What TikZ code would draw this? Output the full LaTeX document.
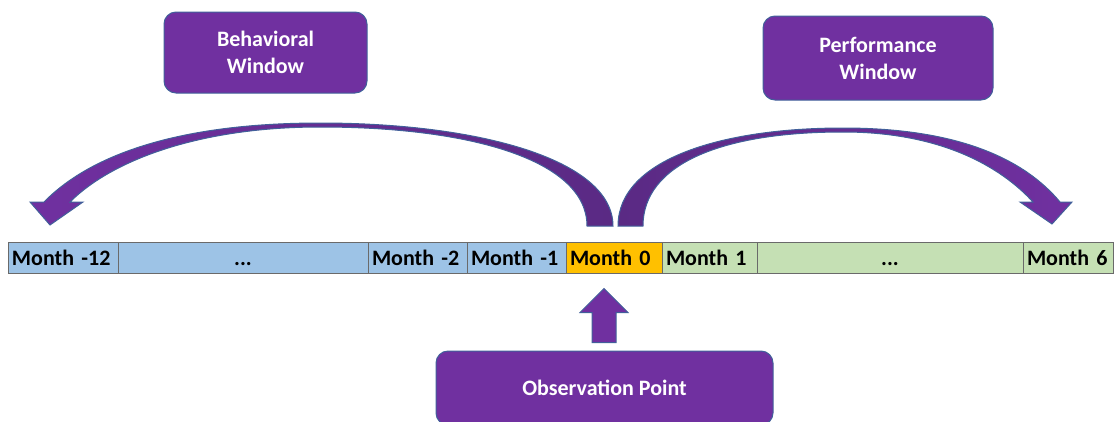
\documentclass[tikz,border=0pt]{standalone}
\usepackage{fontspec}
\setmainfont{Carlito}
\usetikzlibrary{positioning}
\definecolor{winpurple}{HTML}{7030A0}
\definecolor{darkpurple}{HTML}{5A2A84}
\definecolor{winedge}{HTML}{41609A}
\definecolor{pastblue}{HTML}{9DC3E6}
\definecolor{futuregreen}{HTML}{C5E0B4}
\definecolor{nowyellow}{HTML}{FFC000}
\definecolor{cellline}{HTML}{6A6A6A}
\tikzstyle{window} = [draw=winedge,fill=winpurple,rectangle,rounded corners=12pt,line width=1pt,text=white,align=center,font=\fontsize{22}{27}\selectfont\bfseries]
\tikzstyle{month} = [draw=cellline,rectangle,line width=0.8pt,minimum height=31pt,inner xsep=4pt,inner ysep=0pt,outer sep=0pt,text height=15pt,text depth=0pt,align=left,font=\fontsize{22}{26}\selectfont\bfseries]
\tikzstyle{gap} = [month,align=center]
\tikzstyle{blockarrow} = [draw=winedge,line width=1pt]
\def \lift {8pt}

\begin{document}
\begin{tikzpicture}[x=1pt,y=-1pt]
  \useasboundingbox (0,0) rectangle (1114,421);
  \clip (0,0) rectangle (1114,421);
  % windows
  \node[window,minimum width=203pt,minimum height=81pt] (behav) at (265.5,52.5) {Behavioral\\Window};
  \node[window,minimum width=230pt,minimum height=84pt] (perf) at (878,58) {Performance\\Window};
  \node[window,minimum width=337pt,minimum height=74pt] (obs) at (604.5,388) {Observation Point};
  % timeline
  \node[month,fill=pastblue,text width=102pt,anchor=west] (m12) at (8,257.5) {Month -12};
  \node[gap,fill=pastblue,text width=242pt,right=0pt of m12] (dotsl) {...};
  \node[month,fill=pastblue,text width=91pt,right=0pt of dotsl] (m2) {Month -2};
  \node[month,fill=pastblue,text width=91pt,right=0pt of m2] (m1) {Month -1};
  \node[month,fill=nowyellow,text width=88pt,right=0pt of m1] (m0) {Month 0};
  \node[month,fill=futuregreen,text width=87pt,right=0pt of m0] (p1) {Month 1};
  \node[gap,fill=futuregreen,text width=258pt,right=0pt of p1] (dotsr) {...};
  \node[month,fill=futuregreen,text width=82pt,right=0pt of dotsr] (p6) {Month 6};
  % curved arrows
  \draw[blockarrow,left color=winpurple,right color=darkpurple] (613,226) .. controls (613,160) and (480,123) .. (320,123)
    .. controls (190,123) and (95,150) .. (44,202) -- (30,202) -- (50,225) -- (83,202) -- (70,202)
    .. controls (112,160) and (200,127) .. (320,127) .. controls (470,127) and (587,160) .. (587,226) -- cycle;
  \draw[blockarrow,left color=darkpurple,right color=winpurple] (618,226) .. controls (618,160) and (720,128) .. (843,128)
    .. controls (960,128) and (1025,160) .. (1060,202) -- (1072,202) -- (1052,224) -- (1020,202) -- (1033,202)
    .. controls (1000,166) and (940,132) .. (843,132) .. controls (720,132) and (643,165) .. (643,226) -- cycle;
  % observation arrow
  \draw[blockarrow,fill=winpurple] ([xshift=-12.5pt,yshift=\lift]obs.north) -- ++(0,-30) -- ++(-12,0) -- ++(24,-24)
    -- ++(24,24) -- ++(-12,0) -- ++(0,30) -- cycle;
\end{tikzpicture}
\end{document}
